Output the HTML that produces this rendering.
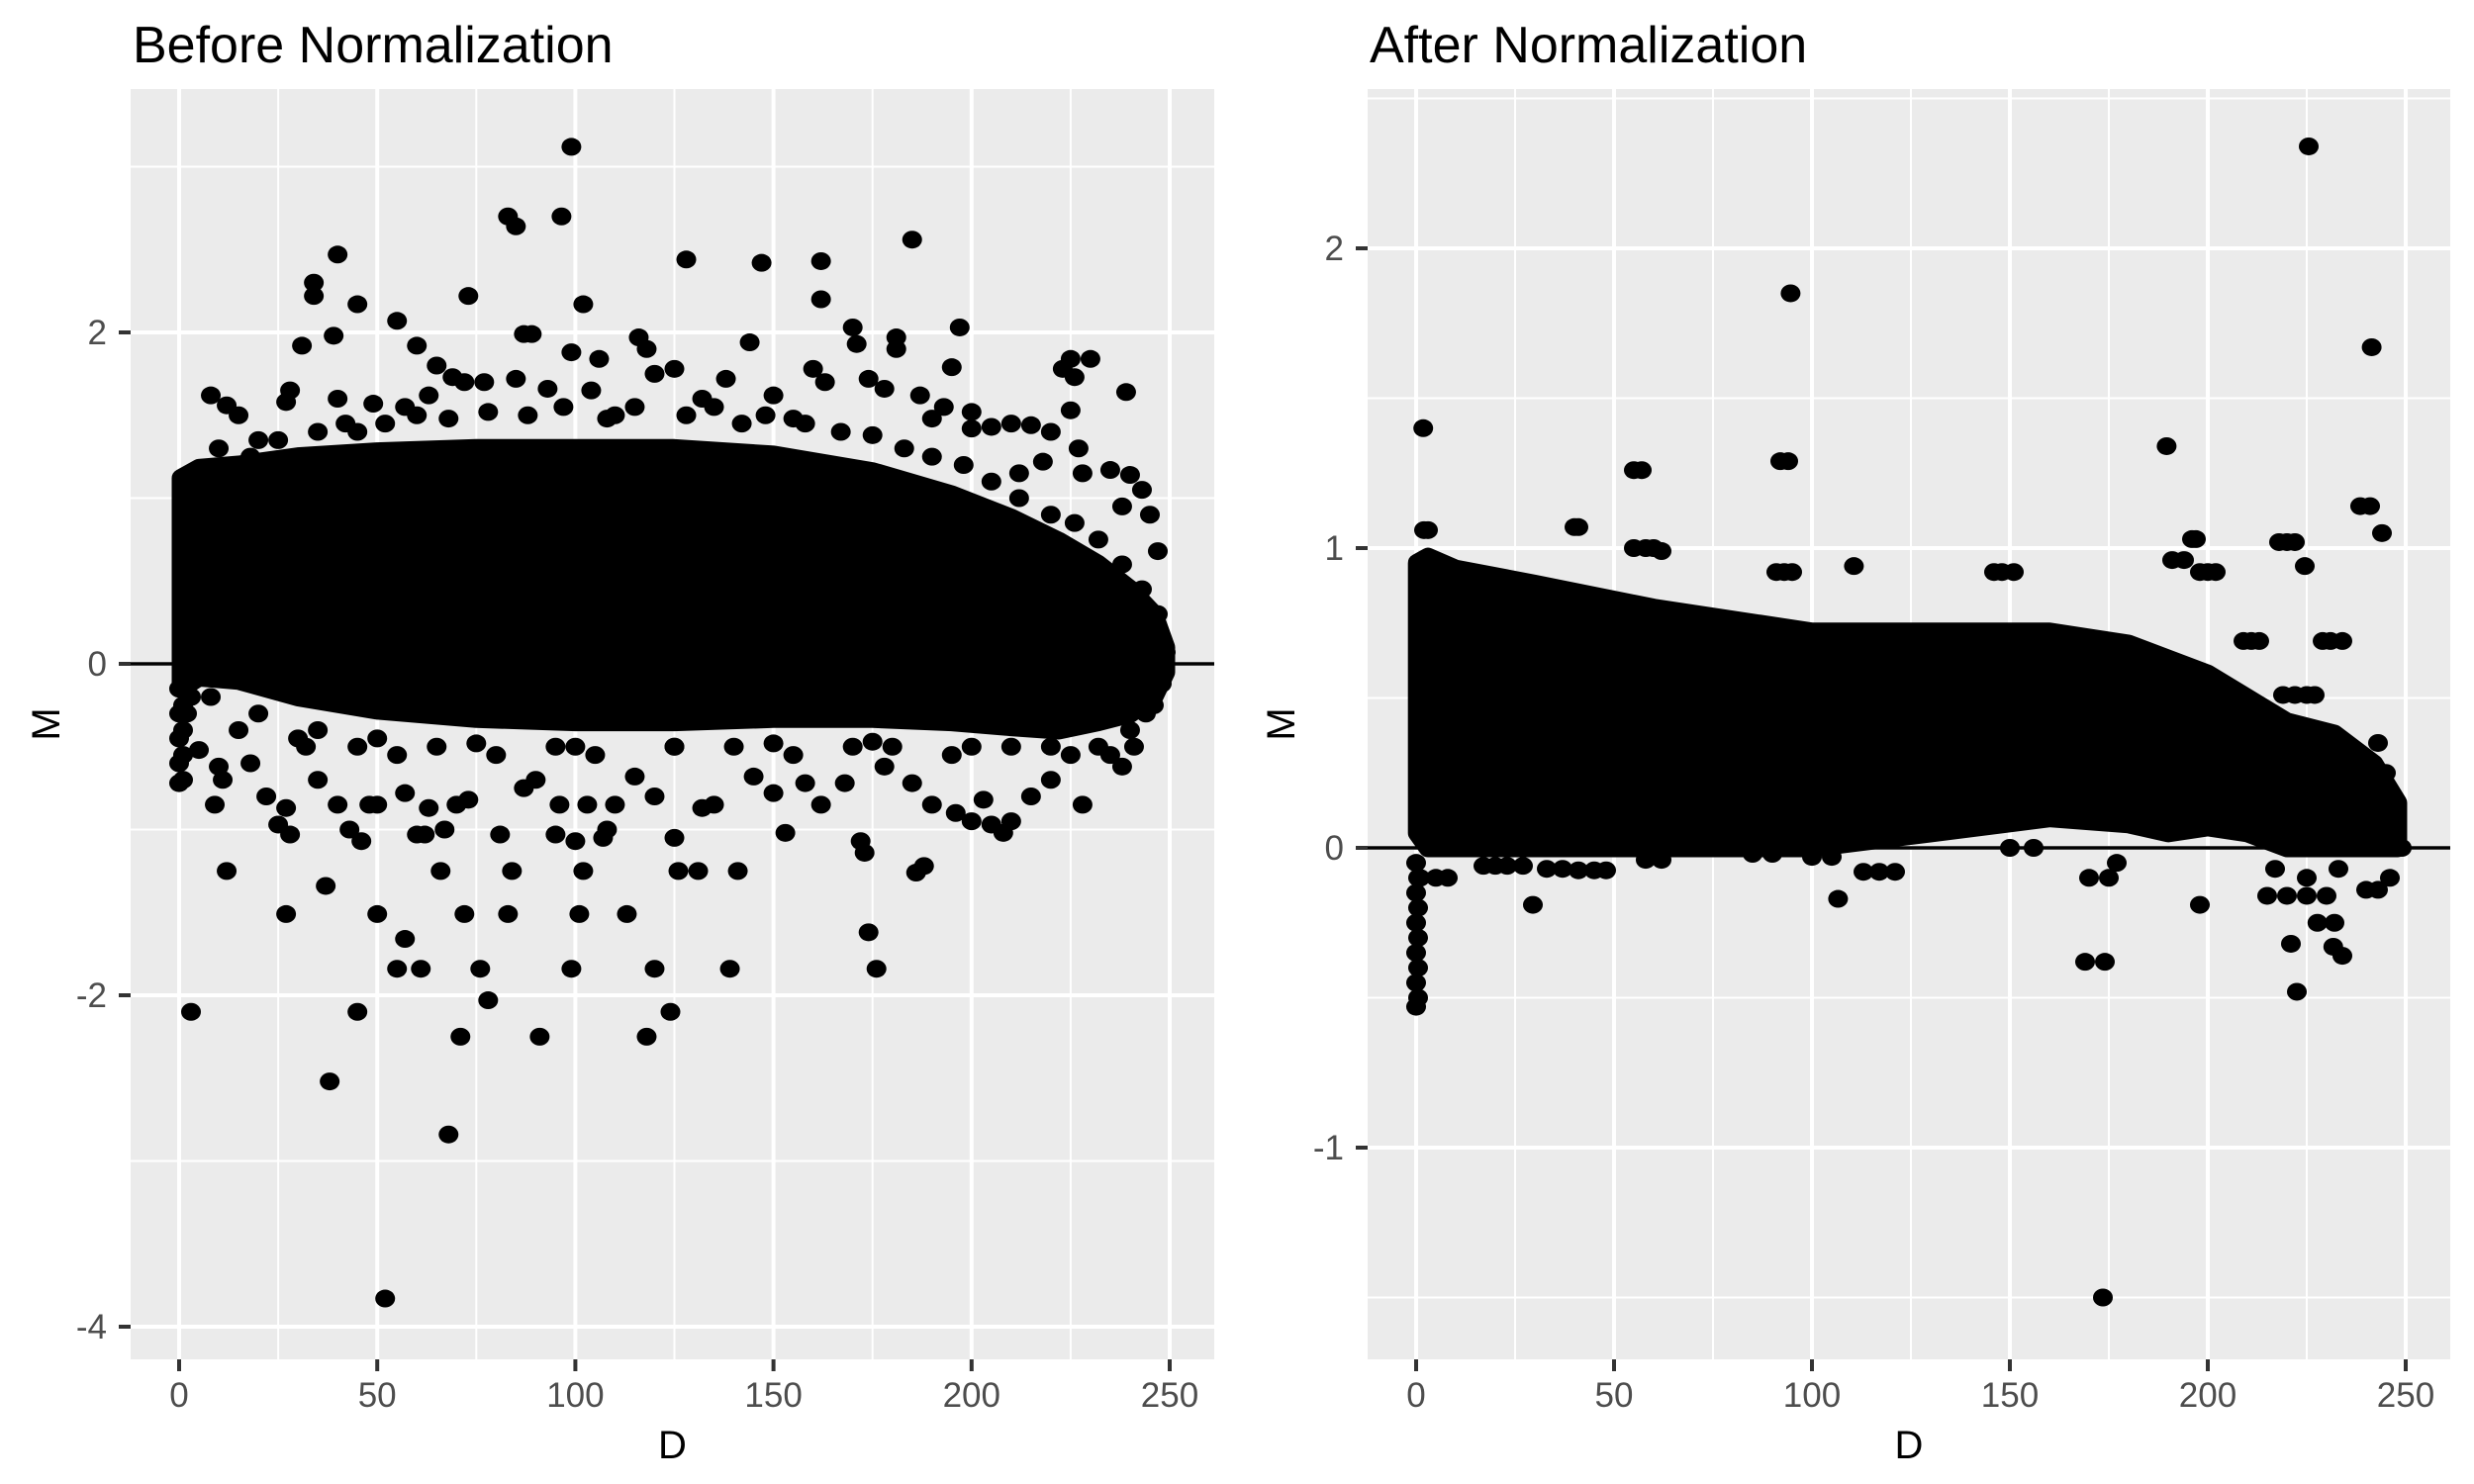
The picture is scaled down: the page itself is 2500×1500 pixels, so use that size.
<!DOCTYPE html>
<html><head><meta charset="utf-8"><style>
html,body{margin:0;padding:0;background:#fff}
svg{display:block}
text{font-family:"Liberation Sans",Arial,sans-serif}
</style></head><body>
<svg id="chart" width="2500" height="1500" viewBox="0 0 2500 1500" xmlns="http://www.w3.org/2000/svg">
<rect width="2500" height="1500" fill="#fff"/>
</svg>
<script>
// ---- Data: Before Normalization ----
const leftEnvD  = [0.5, 5, 15, 30, 50, 75, 100, 125, 150, 175, 195, 210, 222, 232, 240, 246, 249];
const leftEnvUp = [1.12, 1.18, 1.2, 1.25, 1.28, 1.3, 1.3, 1.3, 1.26, 1.16, 1.02, 0.88, 0.74, 0.6, 0.45, 0.3, 0.1];
const leftEnvLo = [-0.15, -0.08, -0.1, -0.2, -0.28, -0.33, -0.35, -0.35, -0.33, -0.33, -0.35, -0.38, -0.4, -0.35, -0.3, -0.2, -0.05];
const leftOutD = [99,96.5,83,85,40,128,147,162,185,34,34,45,73,102,162,31,39,55,87,89,197,170,225,230,223,239,181,181,171,144,116,118,99,106,65,60,195,226,225,8,12,15,28,27,40,49,57,63,69,72,77,85,93,104,120,125,138,150,160,163,174,178,187,193,200,205,210,215,220,227,235,240,243,238,247,245,228,218,212,200,5,20,45,110,135,155,190,
3,45,38,68,52,71,91,118,124,78,55,61,50,57,72,76,99,113,83,101,120,139,174,176,12,27,37,126,131,141,186,188,84,102,66,46,43,28,25,60,62,67,81,95,100,107,108,125,153,172,173,200,205,208,210,5,10,11,9,18,22,27,32,35,40,48,50,57,63,70,73,87,90,96,103,110,115,120,132,135,145,150,158,162,168,178,185,190,196,203,215,220,228,235,238,241,244,248,249,247,3,2,0,0,0,0,0,
15,30,45,55,65,80,95,105,125,140,155,170,180,195,210,225,232,
10,18,25,35,42,52,60,68,78,88,97,108,115,128,132,142,148,158,167,175,183,190,198,205,212,220,226,232,238,243,247,
8,20,35,50,75,100,125,150,175,200,220,240,246,1,1,1,1];
const leftOutM = [3.12,2.70,2.70,2.64,2.47,2.44,2.42,2.43,2.56,2.30,2.22,2.17,2.22,2.17,2.20,1.92,1.98,2.07,1.99,1.99,2.03,2.03,1.84,1.84,1.78,1.64,1.97,1.90,1.93,1.94,1.97,1.90,1.88,1.84,1.80,1.92,1.79,1.73,1.53,1.62,1.56,1.50,1.65,1.58,1.60,1.57,1.55,1.62,1.73,1.70,1.70,1.72,1.66,1.65,1.75,1.78,1.72,1.62,1.78,1.70,1.72,1.66,1.62,1.55,1.52,1.43,1.45,1.44,1.40,1.30,1.17,1.14,1.05,0.95,0.68,0.90,1.15,1.22,1.15,1.42,1.15,1.35,1.40,1.50,1.55,1.48,1.48,
-2.10,-2.10,-2.52,-2.84,-3.83,-2.25,-2.25,-2.25,-2.10,-2.03,-1.84,-1.84,-1.51,-1.66,-1.51,-1.84,-1.84,-1.51,-1.51,-1.51,-1.84,-1.84,-1.62,-1.84,-1.25,-1.51,-1.34,-1.25,-1.25,-1.25,-1.26,-1.22,-1.25,-1.25,-1.25,-1.07,-1.0,-1.03,-0.97,-1.03,-1.03,-1.00,-1.03,-1.03,-1.07,-1.05,-1.00,-1.05,-1.02,-1.07,-1.14,-0.95,-0.97,-1.02,-0.95,-0.52,-0.62,-0.70,-0.85,-0.60,-0.80,-0.87,-0.50,-0.70,-0.85,-0.85,-0.85,-0.78,-0.87,-0.85,-0.82,-0.75,-0.70,-0.85,-0.85,-0.85,-0.68,-0.80,-0.87,-0.85,-0.68,-0.78,-0.72,-0.85,-0.72,-0.62,-0.72,-0.85,-0.90,-0.82,-0.80,-0.70,-0.85,-0.55,-0.62,-0.50,-0.30,-0.12,0.07,0.15,-0.2,-0.3,-0.72,-0.6,-0.45,-0.3,-0.15,
-0.4,-0.45,-0.5,-0.55,-0.5,-0.55,-0.5,-0.55,-0.5,-0.5,-0.55,-0.5,-0.5,-0.55,-0.5,-0.55,-0.5,
1.3,1.25,1.35,1.4,1.45,1.45,1.5,1.48,1.52,1.5,1.55,1.48,1.55,1.5,1.6,1.45,1.5,1.45,1.4,1.38,1.3,1.25,1.2,1.1,1.0,0.9,0.85,0.75,0.6,0.45,0.3,
-0.2,-0.3,-0.4,-0.45,-0.48,-0.5,-0.5,-0.48,-0.47,-0.5,-0.5,-0.4,-0.25,-0.7,-0.55,-0.4,-0.25];

// ---- Data: After Normalization ----
const rightEnvD  = [0.3, 3, 10, 30, 60, 100, 130, 160, 180, 190, 200, 210, 220, 232, 242, 248];
const rightEnvUp = [0.95, 0.97, 0.93, 0.88, 0.8, 0.72, 0.72, 0.72, 0.68, 0.63, 0.58, 0.5, 0.42, 0.38, 0.28, 0.15];
const rightEnvLo = [0.05, 0.0, 0.0, 0.0, 0.0, 0.0, 0.05, 0.1, 0.08, 0.05, 0.07, 0.05, 0.0, 0.0, 0.0, 0.0];
const rightOutD = [225.5,94.6,241.4,1.8,189.6,92,94,55,57,244,238.5,241,2,3,40,41,218,220,222,191,194,196,197,198,200,202,224.5,146,148,151,91,93,95,110.6,55,58,60,62,209,211,213,229,231,234,219,222,225,227,150,156,29.5,106.6,198,169,174,221,222.5,231.7,234,173.5,227.7,232,
17,20,23,27,33,37,41,45,48,5,8,215,220,225,230,217,225,233,240,243,246,247,249,246,245,243,85,90,100,105,113,117,121,170,175,177,62,58,75,
0,0,0,0,0,0,1,0.5,0.5,0.5,0.5,0.5];
const rightOutM = [2.34,1.85,1.67,1.40,1.34,1.29,1.29,1.26,1.26,1.05,1.14,1.14,1.06,1.06,1.07,1.07,1.02,1.02,1.02,0.96,0.96,1.03,1.03,0.92,0.92,0.92,0.94,0.92,0.92,0.92,0.92,0.92,0.92,0.94,1.0,1.0,1.0,0.99,0.69,0.69,0.69,0.69,0.69,0.69,0.51,0.51,0.51,0.51,0.0,0.0,-0.19,-0.17,-0.19,-0.38,-0.38,-0.32,-0.48,-0.33,-0.36,-1.5,-0.25,-0.25,
-0.06,-0.06,-0.06,-0.06,-0.07,-0.07,-0.075,-0.075,-0.075,-0.1,-0.1,-0.16,-0.16,-0.16,-0.16,-0.07,-0.1,-0.07,-0.14,-0.14,-0.1,0.0,0.0,0.12,0.25,0.35,-0.02,-0.02,-0.03,-0.03,-0.08,-0.08,-0.08,-0.1,-0.1,-0.05,-0.04,-0.04,0.0,
-0.53,-0.45,-0.35,-0.25,-0.15,-0.05,-0.1,-0.5,-0.4,-0.3,-0.2,-0.1];

const xTicks = [0, 50, 100, 150, 200, 250];
const xMinor = [25, 75, 125, 175, 225];
const leftYTicks = [-4, -2, 0, 2];
const leftYMinor = [-3, -1, 1, 3];
const rightYTicks = [-1, 0, 1, 2];
const rightYMinor = [-1.5, -0.5, 0.5, 1.5, 2.5];

const NS = 'http://www.w3.org/2000/svg';
const svg = document.getElementById('chart');
function mk(tag, attrs, parent) {
  const e = document.createElementNS(NS, tag);
  for (const k in attrs) e.setAttribute(k, attrs[k]);
  (parent || svg).appendChild(e);
  return e;
}

function drawPanel(cfg) {
  const g = mk('g', {});
  
  
  const L = cfg.left, R = cfg.right, T = 90, B = 1374;
  const xs = d => cfg.x0 + d * cfg.xu;
  const ys = m => cfg.y0 - m * cfg.yu;
  const bg = mk('rect', {x: L, y: T, width: R - L, height: B - T, fill: '#EBEBEB'}, g);
  
  
  cfg.yMinor.forEach(v => {
    const l = mk('line', {x1: L, x2: R, y1: ys(v), y2: ys(v), stroke: '#fff', 'stroke-width': 2}, g);
    
    
  });
  xMinor.forEach(v => {
    const l = mk('line', {x1: xs(v), x2: xs(v), y1: T, y2: B, stroke: '#fff', 'stroke-width': 2}, g);
    
    
  });
  cfg.yTicks.forEach(v => {
    const l = mk('line', {x1: L, x2: R, y1: ys(v), y2: ys(v), stroke: '#fff', 'stroke-width': 4}, g);
    
    
    const t = mk('line', {x1: L - 12, x2: L, y1: ys(v), y2: ys(v), stroke: '#333', 'stroke-width': 4}, g);
    
    
    const tx = mk('text', {x: L - 24, y: ys(v) + 12, 'text-anchor': 'end', 'font-size': 35, fill: '#4D4D4D'}, g);
    
    
    tx.textContent = String(v);
  });
  xTicks.forEach(v => {
    const l = mk('line', {x1: xs(v), x2: xs(v), y1: T, y2: B, stroke: '#fff', 'stroke-width': 4}, g);
    
    
    const t = mk('line', {x1: xs(v), x2: xs(v), y1: B, y2: B + 12, stroke: '#333', 'stroke-width': 4}, g);
    
    
    const tx = mk('text', {x: xs(v), y: B + 48, 'text-anchor': 'middle', 'font-size': 35, fill: '#4D4D4D'}, g);
    
    
    tx.textContent = String(v);
  });
  const clip = mk('clipPath', {id: cfg.name + '-clip'}, g);
  mk('rect', {x: L, y: T, width: R - L, height: B - T}, clip);
  const pts = mk('g', {'clip-path': 'url(#' + cfg.name + '-clip)'}, g);
  
  
  const h = mk('line', {x1: L, x2: R, y1: ys(0), y2: ys(0), stroke: '#000', 'stroke-width': 3.5}, pts);
  
  
  let d = '';
  cfg.envD.forEach((v, i) => { d += (i ? 'L' : 'M') + xs(v).toFixed(1) + ',' + ys(cfg.envUp[i]).toFixed(1); });
  for (let i = cfg.envD.length - 1; i >= 0; i--) d += 'L' + xs(cfg.envD[i]).toFixed(1) + ',' + ys(cfg.envLo[i]).toFixed(1);
  d += 'Z';
  const core = mk('path', {d: d, fill: '#000', stroke: '#000', 'stroke-width': 19, 'stroke-linejoin': 'round'}, pts);
  
  
  cfg.outD.forEach((v, i) => {
    const c = mk('ellipse', {cx: xs(v), cy: ys(cfg.outM[i]), rx: 10, ry: 9, fill: '#000'}, pts);
    
    
  });
  const title = mk('text', {x: L + 2, y: 63, 'font-size': 52, fill: '#000'}, g);
  
  
  title.textContent = cfg.title;
  const xt = mk('text', {x: (L + R) / 2, y: 1474, 'text-anchor': 'middle', 'font-size': 40, fill: '#000'}, g);
  
  
  xt.textContent = 'D';
  const ytx = cfg.yTitleX, yty = (T + B) / 2;
  const yt = mk('text', {x: ytx, y: yty, 'text-anchor': 'middle', 'font-size': 40, fill: '#000', transform: 'rotate(-90 ' + ytx + ' ' + yty + ')'}, g);
  
  
  yt.textContent = 'M';
}

drawPanel({name: 'before-normalization-panel', title: 'Before Normalization', left: 132, right: 1227,
  x0: 181, xu: 4.004, y0: 671, yu: 167.5, yTicks: leftYTicks, yMinor: leftYMinor,
  envD: leftEnvD, envUp: leftEnvUp, envLo: leftEnvLo, outD: leftOutD, outM: leftOutM, yTitleX: 60});
drawPanel({name: 'after-normalization-panel', title: 'After Normalization', left: 1382, right: 2476,
  x0: 1431, xu: 4.0, y0: 857, yu: 303, yTicks: rightYTicks, yMinor: rightYMinor,
  envD: rightEnvD, envUp: rightEnvUp, envLo: rightEnvLo, outD: rightOutD, outM: rightOutM, yTitleX: 1308});
</script>
</body></html>
